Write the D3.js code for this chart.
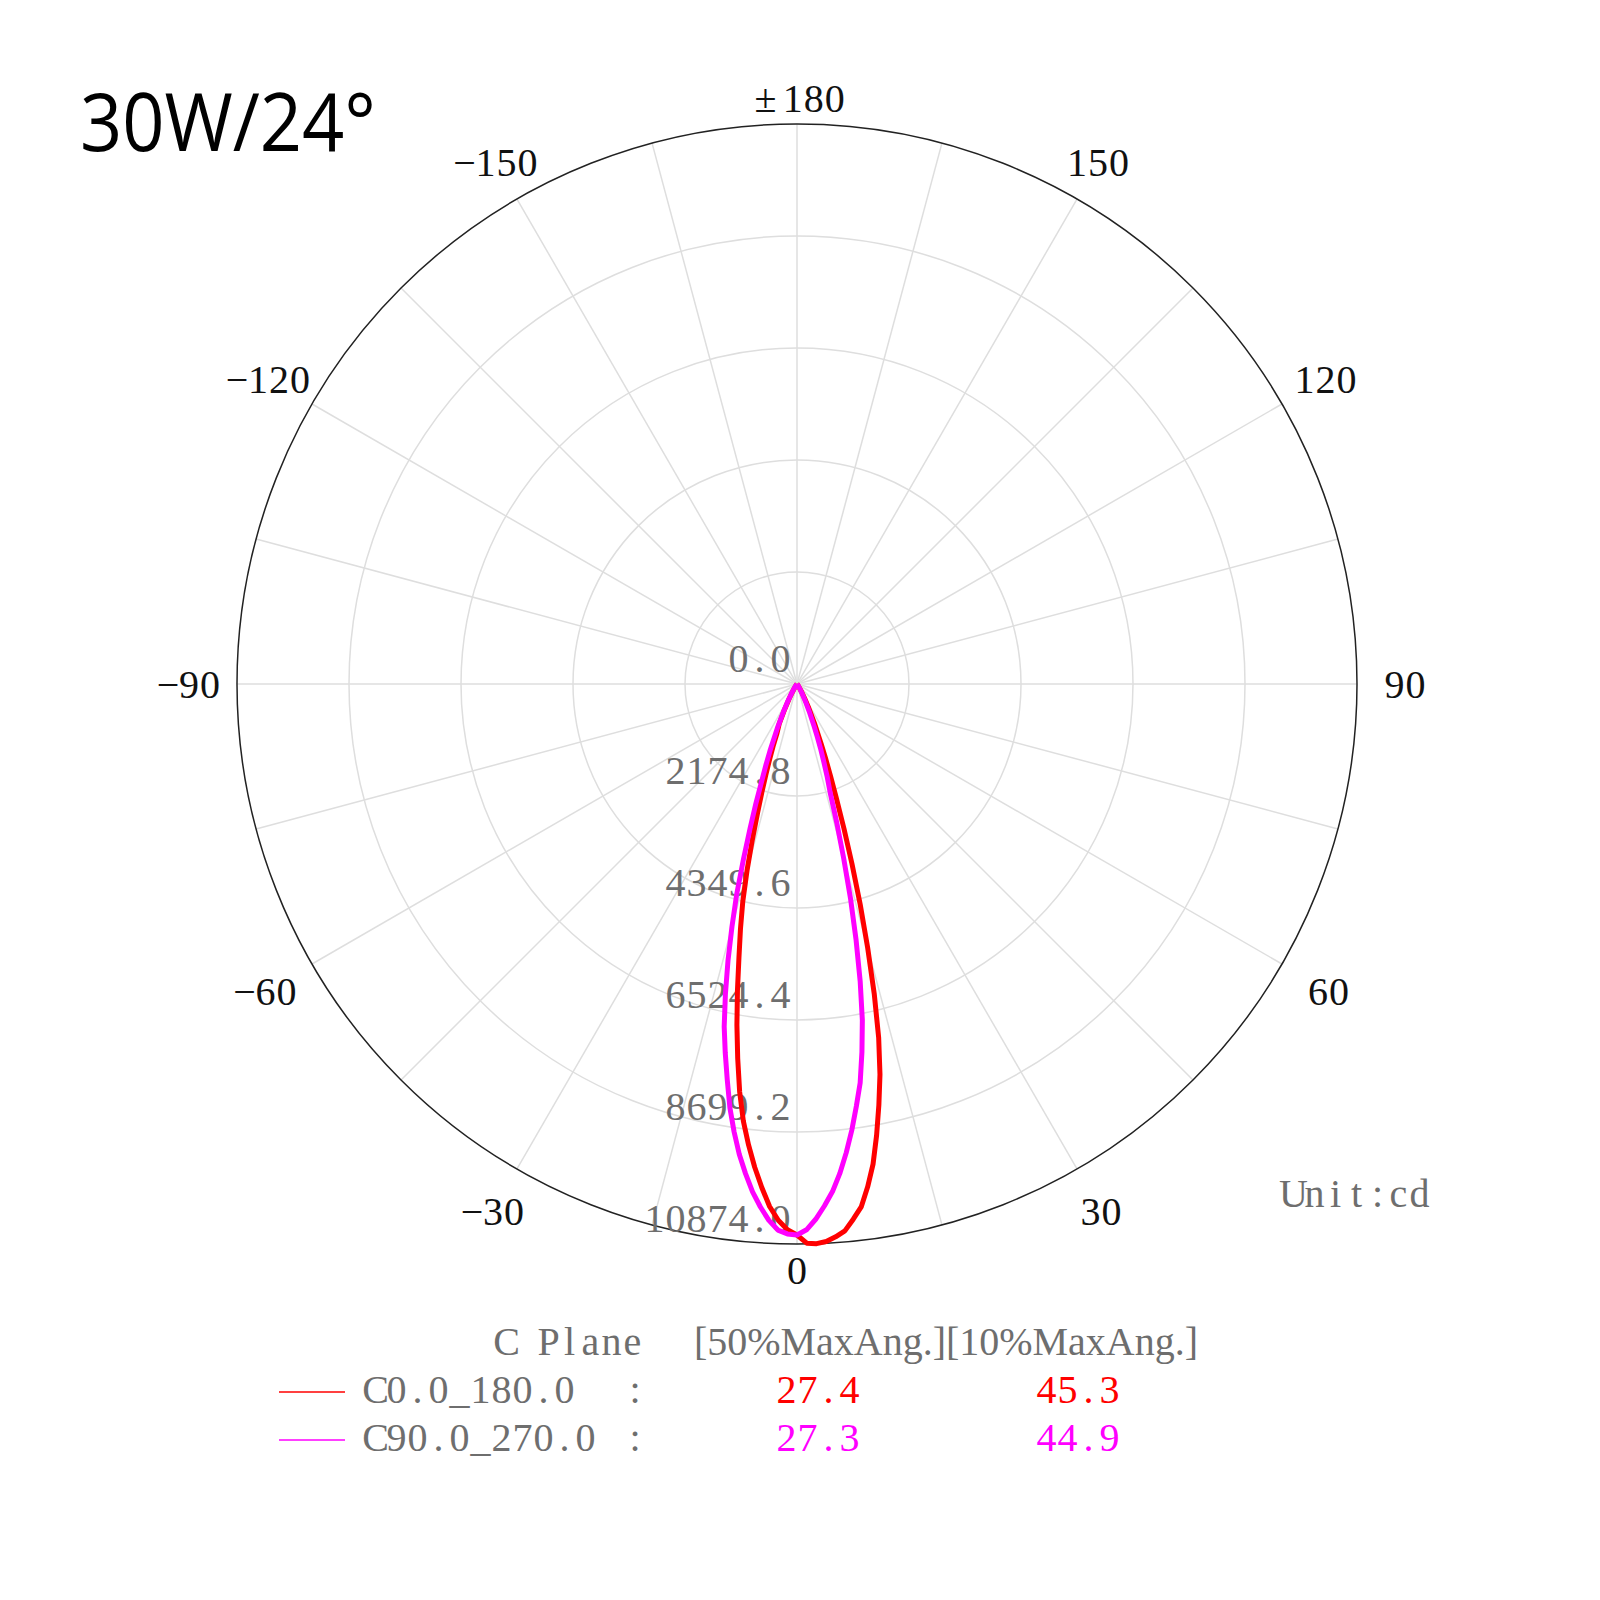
<!DOCTYPE html>
<html>
<head>
<meta charset="utf-8">
<script src="https://cdn.jsdelivr.net/npm/d3@7"></script>
<style>
  body { margin: 0; background: #fff; }
  svg { display: block; }
  text { white-space: pre; }
</style>
</head>
<body>
<div class="chart"></div>
<script>
// gamma angles (deg), 0 = straight down, positive = right half
var gammaAngles = [-90, -60, -45, -40, -35, -30, -28, -26, -24,
  -22, -21, -20, -19, -18, -17, -16, -15, -14, -13, -12, -11, -10, -9, -8, -7, -6, -5, -4, -3, -2, -1,
  0,
  1, 2, 3, 4, 5, 6, 7, 8, 9, 10, 11, 12, 13, 14, 15, 16, 17, 18, 19, 20, 21, 22,
  24, 26, 28, 30, 35, 40, 45, 60, 90];

// C0.0_180.0 intensities (cd)
var c0Values = [0, 0, 0, 10, 50, 180, 320, 540, 850,
  1050, 1300, 1550, 1850, 2200, 2620, 3150, 3750, 4350, 4880, 5420, 6060, 6720, 7360, 8000, 8550, 9000, 9420, 9800, 10160, 10420, 10600,
  10700,
  10860, 10874, 10840, 10760, 10660, 10450, 10230, 9860, 9440, 8900, 8330, 7750, 7050, 6200, 5300, 4450, 3650, 2950, 2350, 1900, 1550, 1250,
  830, 520, 310, 180, 50, 10, 0, 0, 0];

// C90.0_270.0 intensities (cd)
var c90Values = [0, 0, 0, 15, 70, 230, 380, 600, 940,
  1400, 1680, 2000, 2450, 2950, 3550, 4250, 4880, 5540, 6180, 6800, 7300, 7800, 8330, 8780, 9200, 9560, 9900, 10180, 10430, 10610, 10680,
  10700,
  10600, 10400, 10150, 9880, 9540, 9150, 8730, 8280, 7840, 7260, 6650, 5900, 5100, 4300, 3500, 2800, 2200, 1900, 1600, 1350, 1100, 900,
  580, 360, 210, 120, 35, 5, 0, 0, 0];

var ringTicks = [0, 2174.8, 4349.6, 6524.4, 8699.2, 10874.0];
var ringLabels = ["0.0", "2174.8", "4349.6", "6524.4", "8699.2", "10874.0"];
var angleTicks = [0, 30, 60, 90, 120, 150, 180, -150, -120, -90, -60, -30];
var angleLabels = ["0", "30", "60", "90", "120", "150", "±180", "−150", "−120", "−90", "−60", "−30"];

var seriesNames = ["C0.0_180.0", "C90.0_270.0"];
var seriesColors = ["#ff0000", "#ff00ff"];
var halfMaxAng = ["27.4", "27.3"];
var tenthMaxAng = ["45.3", "44.9"];

var svgWidth = 1600;
var svgHeight = 1600;
var cx = 797;
var cy = 684;
var radius = 560;
var cell = 21; // half-width character cell, like the original SimSun text
var monoFont = "'Liberation Serif', 'DejaVu Serif', serif";
var grey = "#6e6e6e";

var svg = d3.select(".chart")
  .append("svg")
  .attr("width", svgWidth)
  .attr("height", svgHeight);

svg.append("rect")
  .attr("width", svgWidth)
  .attr("height", svgHeight)
  .attr("fill", "#fff");

var plot = svg.append("g")
  .attr("transform", `translate(${cx}, ${cy})`);

var rScale = d3.scaleLinear()
  .domain([0, 10874])
  .range([0, radius]);

// draw a string with every character centred in its own fixed cell
function monoText(parent, str, x, y, anchor, color) {
  var chars = Array.from(str);
  var widths = chars.map(c => c === "±" ? cell * 1.6 : cell);
  var total = d3.sum(widths);
  var start = anchor === "middle" ? x - total / 2 : anchor === "end" ? x - total : x;
  var xs = [];
  var acc = start;
  widths.forEach(function(w) {
    xs.push(acc + w / 2);
    acc += w;
  });
  return parent.append("text")
    .attr("x", xs.join(" "))
    .attr("y", y)
    .attr("text-anchor", "middle")
    .attr("font-family", monoFont)
    .attr("font-size", 40)
    .attr("fill", color)
    .text(str);
}

function toXY(gDeg, r) {
  var a = gDeg * Math.PI / 180;
  return [r * Math.sin(a), r * Math.cos(a)];
}

// rings
plot.selectAll(".ring")
  .data(ringTicks.slice(1, -1))
  .enter()
  .append("circle")
  .attr("r", d => rScale(d))
  .attr("fill", "none")
  .attr("stroke", "#dedede")
  .attr("stroke-width", 1.5);

// spokes every 15 degrees
plot.selectAll(".spoke")
  .data(d3.range(0, 360, 15))
  .enter()
  .append("line")
  .attr("x1", 0)
  .attr("y1", 0)
  .attr("x2", d => toXY(d, radius)[0])
  .attr("y2", d => toXY(d, radius)[1])
  .attr("stroke", "#dedede")
  .attr("stroke-width", 1.5);

// outer border
plot.append("circle")
  .attr("r", radius)
  .attr("fill", "none")
  .attr("stroke", "#222")
  .attr("stroke-width", 1.5);

// ring value labels
ringTicks.forEach(function(t, i) {
  monoText(plot, ringLabels[i], -6, rScale(t) - 12, "end", grey);
});

// angle labels
angleTicks.forEach(function(t, i) {
  var a = t * Math.PI / 180;
  var r = 586 + 22 * Math.abs(Math.sin(a)) + 6 * Math.abs(Math.sin(2 * a))
    + 8 * Math.max(0, Math.cos(a)) * Math.abs(Math.sin(2 * a));
  var p = toXY(t, r);
  monoText(plot, angleLabels[i], p[0], p[1] + 14, "middle", "#111");
});

// intensity curves
var radial = d3.lineRadial()
  .angle(d => Math.PI - d[0] * Math.PI / 180)
  .radius(d => rScale(d[1]))
  .curve(d3.curveLinear);

[c0Values, c90Values].forEach(function(vals, i) {
  plot.append("path")
    .datum(gammaAngles.map((g, j) => [g, vals[j]]))
    .attr("d", radial)
    .attr("fill", "none")
    .attr("stroke", seriesColors[i])
    .attr("stroke-width", 5)
    .attr("stroke-linejoin", "round");
});

// title
svg.append("text")
  .attr("x", 80)
  .attr("y", 151)
  .attr("font-family", "'Open Sans', 'Noto Sans', sans-serif")
  .attr("font-size", 80)
  .attr("textLength", 296)
  .attr("lengthAdjust", "spacingAndGlyphs")
  .attr("fill", "#000")
  .text("30W/24°");

// unit
monoText(svg, "Unit:cd", 1283, 1207, "start", grey);

// legend header
monoText(svg, "C Plane", 496, 1355, "start", grey);
svg.append("text")
  .attr("x", 694)
  .attr("y", 1355)
  .attr("font-family", monoFont)
  .attr("font-size", 40)
  .attr("textLength", 24 * cell)
  .attr("lengthAdjust", "spacingAndGlyphs")
  .attr("fill", grey)
  .text("[50%MaxAng.][10%MaxAng.]");

// legend rows
seriesNames.forEach(function(name, i) {
  var y = 1403 + i * 48;
  svg.append("line")
    .attr("x1", 279)
    .attr("x2", 345)
    .attr("y1", y - 11)
    .attr("y2", y - 11)
    .attr("stroke", seriesColors[i])
    .attr("stroke-width", 1.5);
  monoText(svg, name, 365, y, "start", grey);
  monoText(svg, ":", 635, y, "middle", grey);
  monoText(svg, halfMaxAng[i], 776, y, "start", seriesColors[i]);
  monoText(svg, tenthMaxAng[i], 1036, y, "start", seriesColors[i]);
});
</script>
</body>
</html>
